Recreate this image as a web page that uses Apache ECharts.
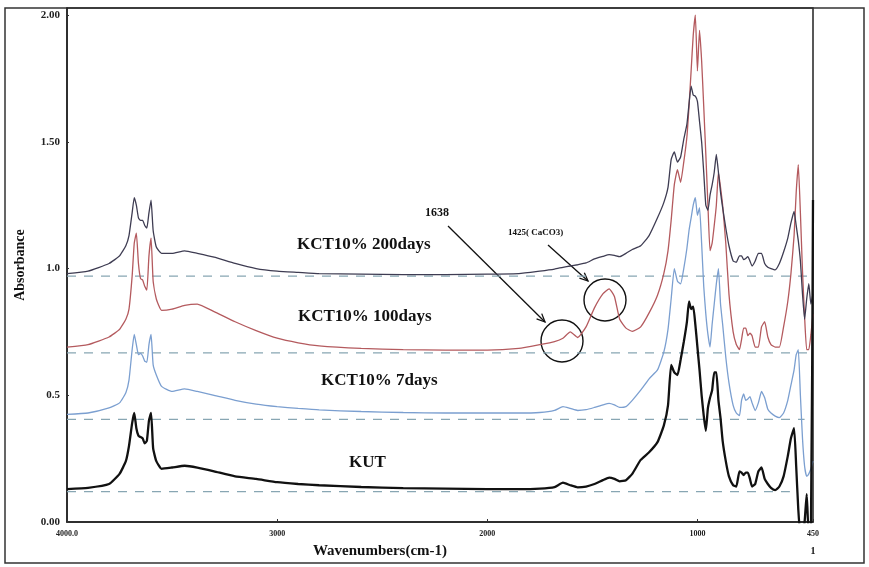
<!DOCTYPE html>
<html>
<head>
<meta charset="utf-8">
<script src="https://cdn.jsdelivr.net/npm/echarts@6/dist/echarts.min.js"></script>
<style>html,body{margin:0;padding:0;background:#fff}#c{width:869px;height:567px}</style>
</head>
<body>
<div id="c"></div>
<script>
// Wavenumber grid (cm-1), shared by all spectra
const wavenumbers = [4000,3900,3800,3750,3720,3705,3690,3680,3670,3660,
3650,3640,3630,3620,3610,3600,3590,3575,3550,3500,
3440,3380,3300,3200,3100,3000,2900,2800,2600,2400,
2200,2000,1850,1750,1680,1640,1605,1570,1530,1490,
1450,1420,1395,1370,1340,1310,1270,1230,1190,1160,
1140,1125,1110,1095,1080,1065,1050,1040,1030,1020,
1010,1000,990,980,970,960,950,940,930,920,
910,900,890,880,865,850,830,815,800,790,
780,770,760,750,740,725,710,695,680,665,
650,630,610,590,570,555,540,530,520,510,
500,490,480,470,460,450];

const kut = [0.13,0.135,0.15,0.19,0.24,0.30,0.39,0.43,0.37,0.34,
0.335,0.33,0.31,0.32,0.40,0.43,0.29,0.24,0.21,0.215,
0.222,0.215,0.20,0.18,0.17,0.157,0.15,0.145,0.138,0.134,
0.132,0.13,0.13,0.132,0.138,0.155,0.145,0.137,0.14,0.15,
0.165,0.175,0.17,0.16,0.165,0.19,0.245,0.275,0.315,0.38,
0.46,0.62,0.59,0.58,0.64,0.71,0.79,0.87,0.84,0.85,
0.78,0.69,0.60,0.50,0.42,0.36,0.45,0.49,0.52,0.59,
0.59,0.48,0.41,0.32,0.24,0.18,0.145,0.14,0.2,0.195,
0.185,0.195,0.195,0.17,0.14,0.15,0.2,0.215,0.17,0.15,
0.135,0.126,0.14,0.18,0.26,0.33,0.37,0.22,0.05,-0.05,
-0.05,0.0,0.11,-0.05,-0.05,1.27];

const kct7days = [0.425,0.43,0.45,0.47,0.51,0.56,0.68,0.74,0.70,0.66,
0.665,0.655,0.635,0.63,0.70,0.74,0.62,0.58,0.535,0.515,
0.525,0.515,0.50,0.48,0.465,0.455,0.448,0.442,0.436,0.432,
0.43,0.43,0.43,0.432,0.44,0.455,0.448,0.44,0.443,0.452,
0.462,0.468,0.462,0.452,0.455,0.48,0.52,0.565,0.6,0.67,
0.76,0.88,1.0,0.95,0.94,1.0,1.08,1.15,1.2,1.25,
1.28,1.21,1.24,1.1,0.93,0.82,0.74,0.69,0.78,0.86,
0.94,1.0,0.86,0.78,0.65,0.55,0.46,0.43,0.42,0.48,
0.505,0.48,0.485,0.495,0.47,0.44,0.47,0.515,0.49,0.445,
0.43,0.418,0.412,0.43,0.48,0.54,0.6,0.66,0.68,0.5,
0.33,0.22,0.18,0.19,0.21,0.24];

const kct100days = [0.69,0.70,0.73,0.76,0.80,0.84,0.97,1.10,1.14,1.02,
0.96,0.955,0.93,0.915,1.05,1.12,0.95,0.88,0.835,0.84,
0.855,0.86,0.83,0.79,0.755,0.725,0.707,0.695,0.685,0.68,
0.678,0.678,0.685,0.70,0.712,0.725,0.75,0.728,0.77,0.845,
0.9,0.92,0.89,0.8,0.765,0.752,0.77,0.825,0.895,0.98,
1.07,1.19,1.33,1.39,1.34,1.42,1.52,1.64,1.78,1.92,
2.0,1.78,1.94,1.82,1.64,1.45,1.25,1.07,1.1,1.17,
1.25,1.38,1.32,1.25,1.1,0.9,0.75,0.7,0.68,0.72,
0.765,0.765,0.735,0.745,0.735,0.69,0.69,0.77,0.79,0.73,
0.70,0.69,0.69,0.77,0.87,0.98,1.13,1.3,1.41,1.22,
0.99,0.81,0.68,0.68,0.74,0.82];

const kct200days = [0.98,0.99,1.02,1.05,1.09,1.13,1.22,1.28,1.25,1.2,
1.19,1.19,1.17,1.16,1.22,1.27,1.15,1.085,1.06,1.06,
1.07,1.06,1.045,1.02,1.0,0.99,0.985,0.98,0.978,0.976,
0.976,0.978,0.98,0.99,0.998,1.005,1.01,1.015,1.022,1.038,
1.048,1.055,1.052,1.047,1.06,1.075,1.09,1.13,1.2,1.26,
1.32,1.43,1.46,1.42,1.44,1.51,1.57,1.65,1.72,1.685,
1.68,1.66,1.58,1.5,1.38,1.25,1.23,1.29,1.33,1.38,
1.45,1.38,1.3,1.24,1.16,1.09,1.03,1.025,1.05,1.05,
1.035,1.04,1.047,1.03,1.01,1.03,1.06,1.06,1.02,1.005,
1.0,0.995,1.02,1.065,1.12,1.18,1.225,1.17,1.11,1.03,
0.9,0.8,0.88,0.94,0.86,0.9];

// Dashed baselines: level and the wavenumber where each dashed line ends
const baselineLevels = [0.12, 0.405, 0.667, 0.97];
const baselineEnds = [560, 490, 455, 455];

const seriesNames = ['KUT', 'KCT10% 7days', 'KCT10% 100days', 'KCT10% 200days'];
const seriesValues = [kut, kct7days, kct100days, kct200days];
const seriesColors = ['#111111', '#7b9fd0', '#b45a5e', '#3e3c52'];
const seriesWidths = [2.3, 1.3, 1.3, 1.3];

const xTickValues = [4000, 3000, 2000, 1000, 450];
const xTickLabels = {4000: '4000.0', 3000: '3000', 2000: '2000', 1000: '1000', 450: '450'};
const yTickValues = [0, 0.5, 1.0, 1.5, 2.0];
const yTickLabels = ['0.00', '0.5', '1.0', '1.50', '2.00'];

const serif = '"Liberation Serif","Times New Roman",serif';

const series = [];
baselineLevels.forEach((b, i) => {
  series.push({
    type: 'line', name: 'base' + i, silent: true, showSymbol: false,
    data: [[4000, b], [baselineEnds[i], b]],
    lineStyle: {color: '#88a6b3', width: 1.2, type: [9, 8]}, z: 1
  });
});
seriesValues.forEach((vals, i) => {
  series.push({
    type: 'line', name: seriesNames[i], showSymbol: false, smooth: 0.15,
    data: wavenumbers.map((w, k) => [w, vals[k]]),
    lineStyle: {color: seriesColors[i], width: seriesWidths[i]},
    z: i === 0 ? 5 : 3, clip: true
  });
});

function arrow(x1, y1, x2, y2) {
  const dx = x2 - x1, dy = y2 - y1, L = Math.hypot(dx, dy);
  const ux = dx / L, uy = dy / L, h = 9, a = 0.42;
  const p1 = [x2 - h * (ux * Math.cos(a) - uy * Math.sin(a)), y2 - h * (uy * Math.cos(a) + ux * Math.sin(a))];
  const p2 = [x2 - h * (ux * Math.cos(a) + uy * Math.sin(a)), y2 - h * (uy * Math.cos(a) - ux * Math.sin(a))];
  return [
    {type: 'line', shape: {x1, y1, x2, y2}, style: {stroke: '#111', lineWidth: 1.3}},
    {type: 'polyline', shape: {points: [p1, [x2, y2], p2]}, style: {stroke: '#111', lineWidth: 1.3, fill: 'none'}}
  ];
}

const txt = (x, y, text, size, extra) => Object.assign({
  type: 'text', x, y,
  style: Object.assign({text, font: 'bold ' + size + 'px ' + serif, fill: '#111', textVerticalAlign: 'middle'}, extra || {})
});

const chart = echarts.init(document.getElementById('c'));
chart.setOption({
  animation: false,
  backgroundColor: '#fff',
  grid: {left: 67, right: 56, top: 8, bottom: 45, show: true, borderColor: '#222', borderWidth: 1.5, backgroundColor: 'transparent'},
  xAxis: {
    type: 'value', inverse: true, min: 450, max: 4000,
    axisLine: {show: true, lineStyle: {color: '#222', width: 1.5}},
    axisTick: {show: true, inside: true, length: 3, customValues: xTickValues, lineStyle: {color: '#333'}},
    axisLabel: {customValues: xTickValues, formatter: v => xTickLabels[v] || '', fontFamily: serif, fontSize: 8, fontWeight: 'bold', color: '#222', margin: 8},
    splitLine: {show: false}
  },
  yAxis: {
    type: 'value', min: 0, max: 2.028,
    axisLine: {show: true, lineStyle: {color: '#222', width: 1.5}},
    axisTick: {show: true, inside: true, length: 2, customValues: yTickValues, lineStyle: {color: '#333'}},
    axisLabel: {customValues: yTickValues, formatter: v => { const i = yTickValues.findIndex(t => Math.abs(t - v) < 1e-6); return i >= 0 ? yTickLabels[i] : ''; },
      fontFamily: serif, fontSize: 11, fontWeight: 'bold', color: '#222', margin: 7},
    splitLine: {show: false}
  },
  series,
  graphic: [
    {type: 'rect', shape: {x: 5, y: 8, width: 859, height: 555}, style: {fill: 'none', stroke: '#333', lineWidth: 1.5}, silent: true},
    txt(297, 245, 'KCT10% 200days', 17),
    txt(298, 317, 'KCT10% 100days', 17),
    txt(321, 381, 'KCT10% 7days', 17),
    txt(349, 463, 'KUT', 17),
    txt(425, 213, '1638', 12),
    txt(508, 233, '1425( CaCO3)', 9),
    txt(380, 551, 'Wavenumbers(cm-1)', 15, {textAlign: 'center'}),
    txt(813, 551, '1', 10, {textAlign: 'center'}),
    {type: 'text', x: 20, y: 265, rotation: Math.PI / 2, style: {text: 'Absorbance', font: 'bold 14px ' + serif, fill: '#111', textAlign: 'center', textVerticalAlign: 'middle'}},
    {type: 'circle', shape: {cx: 562, cy: 341, r: 21}, style: {fill: 'none', stroke: '#111', lineWidth: 1.4}},
    {type: 'circle', shape: {cx: 605, cy: 300, r: 21}, style: {fill: 'none', stroke: '#111', lineWidth: 1.4}},
    ...arrow(448, 226, 545, 322),
    ...arrow(548, 245, 588, 281)
  ]
});
</script>
</body>
</html>
